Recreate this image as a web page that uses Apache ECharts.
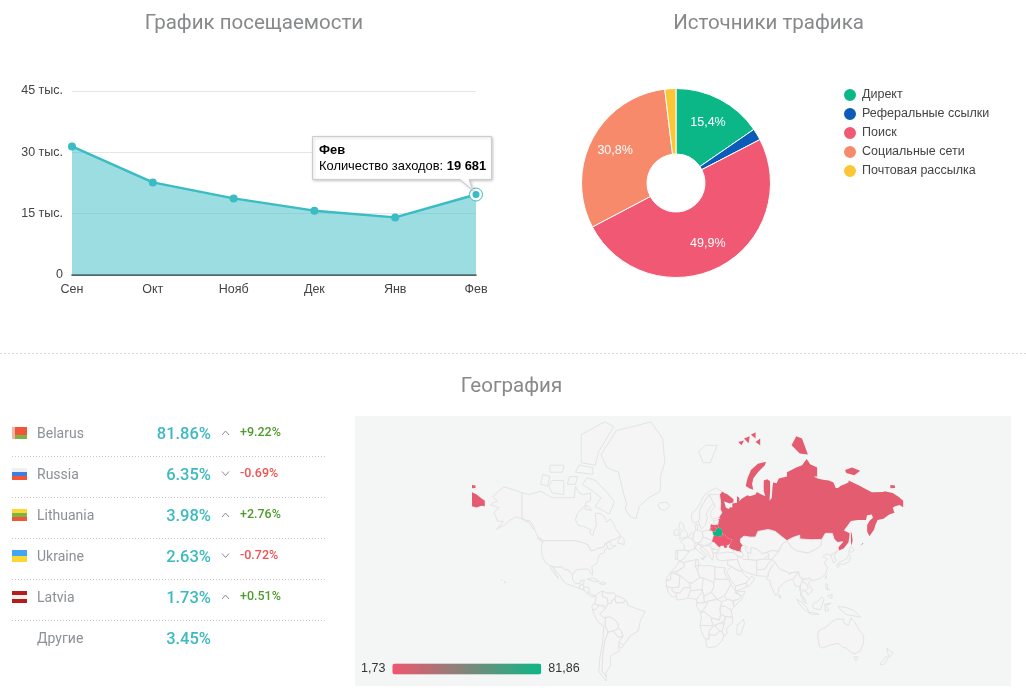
<!DOCTYPE html>
<html>
<head>
<meta charset="utf-8">
<script src="https://cdn.jsdelivr.net/npm/echarts@6/dist/echarts.min.js"></script>
<style>
  html, body { margin: 0; padding: 0; background: #fff; }
  #main { width: 1026px; height: 698px; }
</style>
</head>
<body>
<div id="main"></div>
<script>
// посещаемость
const months = ['Сен', 'Окт', 'Нояб', 'Дек', 'Янв', 'Фев']
const visits = [31450, 22650, 18730, 15730, 14090, 19681]
const visitTicks = [0, 15000, 30000, 45000]

// источники трафика
const sources = ['Директ', 'Реферальные ссылки', 'Поиск', 'Социальные сети', 'Почтовая рассылка']
const sourceShares = [15.4, 2.0, 49.9, 30.8, 1.9]
const sourceColors = ['#0cb787', '#0b5cb8', '#f15873', '#f88a6c', '#fdc634']

// география
const countries = ['Belarus', 'Russia', 'Lithuania', 'Ukraine', 'Latvia', 'Другие']
const countryShares = [81.86, 6.35, 3.98, 2.63, 1.73, 3.45]
const countryDeltas = [9.22, -0.69, 2.76, -0.72, 0.51, null]
const flagStripes = [
  ['#f2553a', '#f2553a', '#7cb342'],
  ['#f0f0f0', '#3f7fe0', '#f2553a'],
  ['#fdd835', '#7cb342', '#f2553a'],
  ['#42a5f5', '#fdd835'],
  ['#b71c1c', '#f4f0ea', '#b71c1c']
]

// контуры стран, lon lat (упрощённо)
const outlines = {
  Russia: ['28 60,30 60,28.5 60.7,31 62.5,29.5 64,30 66,29 69,31 70,33 69.5,36 69,41 67.5,41 66.5,38 66,33 66.7,34.5 64.5,37 64,38 64.7,40 64.6,40 66,44 66.3,44 68.5,46 68,46 66.8,48 67.7,53 68.8,55 68.5,60 69,61 69.8,65 69,68.5 68.5,67 70,67 73,70 73.3,72.5 72.8,72.5 70,72 67,74 68,74.5 71,75 72.5,78 72.3,80 73.5,87 74,87 75,95 76,100 76.5,104 77.7,107 76.7,113 76,113 74,110 74,113.5 73.5,118 73.2,123 73,127 72.5,129 71,131 71,133 71.5,140 72.5,140 73,150 71.5,153 71,160 69.7,170 69.8,171 70,178 69.5,180 69,183 68.3,187 67,187 64.7,184 65.5,180 65,178 64.5,179.5 62.5,175 61.8,170 60,165 59.5,163 57,162 55,158 51.5,156 54,156 57,158 59,161 60.5,160 61.8,156 61.5,155 59.5,148 59.5,142 59,136 54.5,141 53,140 48,136 44.5,132 43,131 45,135 48.3,130.5 48,127.5 50,126 53,120 53,117 49.7,108 49.5,98 50,98 52,92 50.8,87 49,83 51,77 54,71 55,62 54,60 51,55 51,50 51.5,47 50,47 48,49 46.3,47.5 45,47 43,48.5 41.8,44 42.5,40 43.5,37 45,38 47,40 49.5,36 50.3,34 52,31.5 52.5,31 55,28 56,27.5 57.5,28 59.5',
    '-184 69.7,-180 69,-176 67.8,-173 67,-173 65,-176 65.2,-180 64.6,-184 65',
    '-184 71.8,-181 71.7,-181 71,-184 70.9', '176 71.8,180 71.7,180 71,176 70.9',
    '51.5 71.5,55 70.8,58 70.5,57 72,58 73.5,62 75,68 76.5,69 77.2,62 76.8,56 75.5,53 73.5', '91 80,98 78.7,105 78.5,100 81,95 81.3',
    '137 75.5,143 76,150 75.3,145 74.3,138 74.8', '142 54.3,143 52,143.5 49,142.5 46,142 48,142 51', '20 55,22.5 55,22.5 54.3,19.8 54.4',
    '45 80.5,50 80.7,48 80', '50 81,55 81.3,54 80.3', '56 81.5,60 81.8,60 81', '60 80.5,64 81,64 80', '150 46,152 47.5,153 47.5', '146 44,148 45.5,148 45'],
  USA: ['-123 49,-95 49,-89 48,-84 46.5,-82 43,-79 43,-76 44.5,-71 45,-69 47.3,-67 45,-70 43.5,-70 41.7,-74 40.5,-76 37,-76 35,-81 31.5,-80 27,-80.5 25.2,-82.5 28,-84 30,-89 30,-94 29.5,-97.5 26,-99.5 27.5,-101.5 29.7,-104.5 29.5,-106.5 31.8,-111 31.3,-117 32.5,-120.5 34.5,-124 40,-124 46',
    '-141 69.6,-148 70.4,-156.5 71.3,-163 69.5,-166 68.3,-162 66.8,-165 66.5,-168 65.6,-161 64.5,-165 62.5,-162 59,-157 58.8,-163 55,-155 57.5,-152 59.2,-149 60,-146 60.8,-140 59.7,-135 58,-131 55,-130.5 56,-134 59,-137 59.3,-141 60.3',
    '-156 20.5,-155 19.3,-156 19.2', '-159 22,-158 21.5,-158.5 21.2'],
  Canada: ['-141 69.6,-141 60.3,-137 59.3,-134 59,-130.5 56,-130 54.5,-127 51,-123 49,-95 49,-89 48,-84 46.5,-82 43,-79 43,-76 44.5,-71 45,-69 47.3,-67 45,-66 43.5,-60 46,-64 46,-65 48.5,-70 47,-65 49,-60 50,-56 52,-60 55,-62 57.5,-65 60,-68 58.5,-70 61,-74 62.3,-78 62.3,-77 57,-79 54.5,-80 51.5,-82.5 53,-82 55,-88 56.5,-92.5 57,-95 59.5,-93.5 62,-90 64,-87 65,-86 66.5,-82 67,-82 69.5,-88 69,-92 69.5,-95 71.5,-96 68,-102 68,-108 68,-115 68,-125 70,-135 69',
    '-62 66,-66 62,-72 63.5,-78 65,-73 68,-80 70,-89 72,-85 73.7,-78 73,-70 70.5,-62 67', '-105 69,-115 69.5,-118 71.5,-115 73,-105 73', '-125 72,-119 71.5,-117 74,-123 74.5',
    '-90 77,-78 76.5,-75 79,-62 82.5,-70 83,-90 81.5', '-95 75,-80 74.5,-80 76,-92 76.5', '-117 75,-106 75,-105 76.5,-117 76.5', '-87 64,-81 63.5,-85 65.5',
    '-59 47.7,-53 46.7,-53 49.5,-56 51.5', '-128 50.5,-123.5 48.5,-125 50', '-102 72,-95 72,-93 74,-100 74'],
  Greenland: ['-73 78.5,-68 76,-58 75,-54 70,-51 66,-52 64,-48 61,-43 60,-40 65,-32 68,-22 70,-22 74,-18 77,-20 81,-30 83,-45 82.5,-60 82,-66 80.5'],
  Iceland: ['-24 65.5,-22 64,-18 63.5,-14 65,-16 66.5,-22 66.3'],
  Mexico: ['-117 32.5,-111 31.3,-106.5 31.8,-104.5 29.5,-101.5 29.7,-99.5 27.5,-97.5 26,-97.5 22,-95 18.7,-91 18.5,-90.5 21,-87 21.5,-88.5 18,-91 17,-92 14.7,-96 16,-102 18,-105.5 20.5,-109 26,-112.5 29.5,-114.5 31.5,-112 27,-109.7 23,-112 25,-115 29'],
  Guatemala: ['-92 14.7,-91 17,-88.5 18,-88 16,-87.5 13'],
  Nicaragua: ['-88 16,-83.3 15,-83.5 11,-85 10,-87.5 13'],
  Panama: ['-83.5 11,-80 9,-77.3 8.5,-78 7.5,-81 7.5,-85 10'],
  Cuba: ['-85 22,-80 23.2,-74.2 20.2,-77.5 19.9'],
  Hispaniola: ['-74.3 18.5,-71 19.9,-68.5 18.5,-71.5 17.8'],
  Colombia: ['-77.3 8.5,-75 11,-71.5 12.3,-72 8,-67.5 6,-67 1.5,-70 -4,-70 -1,-75 0,-79 1.5,-77.5 4'],
  Venezuela: ['-71.5 12.3,-68 10.5,-62 10.7,-60 8.5,-61 5,-64 4,-64 1.5,-67 1.5,-67.5 6,-72 8'],
  Guyana: ['-60 8.5,-52 5,-54 2.2,-60 2,-61 5'],
  Ecuador: ['-79 1.5,-75 0,-75.5 -1.5,-78.5 -4.5,-80.5 -3,-81 -1'],
  Peru: ['-80.5 -3,-78.5 -4.5,-75.5 -1.5,-75 0,-70 -1,-70 -4,-74 -7.5,-70.5 -11,-69 -12,-69.5 -17.5,-71 -18,-76 -14,-79 -8'],
  Bolivia: ['-69 -11,-65.5 -10,-60 -13.5,-58 -17,-58 -20,-62.5 -22,-67 -23,-69.5 -17.5'],
  Chile: ['-69.5 -17.5,-67 -23,-70 -31,-71.5 -40,-72 -50,-68.5 -52.5,-68.5 -55,-75 -50,-74 -42,-71.5 -30,-70.5 -18'],
  Argentina: ['-67 -23,-62.5 -22,-58 -27,-54 -26,-58 -33.5,-57 -37,-62 -39,-65 -41,-65 -47,-69 -51,-68.5 -52.5,-72 -50,-71.5 -40,-70 -31'],
  Paraguay: ['-62.5 -22,-58 -20,-55.5 -22,-54 -26,-58 -27'],
  Uruguay: ['-58 -33.5,-57.5 -30.5,-53.5 -33,-55 -35'],
  Brazil: ['-60 2,-54 2.2,-51 4,-50 0,-44 -2.5,-35 -5.5,-39 -13,-41 -22,-48 -26,-53.5 -33,-57.5 -30.5,-54 -26,-55.5 -22,-58 -20,-58 -17,-60 -13.5,-65.5 -10,-70.5 -11,-74 -7.5,-70 -4,-67 1.5,-64 1.5,-64 4,-61 5'],
  Norway: ['5 59,5 62,11 65,15 68.5,20 70,26 71,31 70,29 69,25 69,20 69,15 66,12 63.5,12 60,11 59,8 58'],
  Sweden: ['11 59,12 60,12 63.5,15 66,20 69,24 66,22 65.5,17.5 62,18.5 60,16.5 57,14 55.5,13 55.5'],
  Finland: ['24 66,20 69,25 69,29 69,30 66,29.5 64,31 62.5,28 60.5,23 60,21.5 61,21.5 63,25 65'],
  Svalbard: ['11 79,17 80,27 80,21 77,15 77'],
  Denmark: ['8 57,10.5 57.5,10 55,8.5 55'],
  UK: ['-5.5 50,1.5 51.2,1.5 53,-1.5 55,-2 57.5,-5 58.5,-6 56,-3 54,-5 53,-5 51.5'],
  Ireland: ['-10 52,-6 52,-6 55,-8.5 55,-10 54'],
  France: ['-4.5 48.5,2 51,6 49.5,8 49,7.5 44,3 43,-1.8 43.3,-1 46'],
  Spain: ['-9 43,-1.8 43.3,3 42.4,0 39.5,-2 37,-5.5 36,-7.4 37.2,-7 42'],
  Portugal: ['-9 42,-7 42,-7.4 37.2,-9 37'],
  Benelux: ['2 51,5 53.3,7 53.3,6 49.5'],
  Germany: ['7 53.5,9 54.8,14 54,15 51,12.5 48,8 47.6,6 49.5'],
  Poland: ['14 54,19 54.5,23 54,24 51.7,22.5 49,15 51'],
  Austria: ['12.5 48,15 51,22.5 49,22 47.7,16.5 46,10 47'],
  Italy: ['7.5 44,10 47,13.5 46,12.5 44,18 40,16 38,15.5 40,11 42.5,9 44.3', '12.5 38,15.5 38,15 36.7'],
  Balkans: ['13.5 46,16.5 46,21 46,22.5 44,23 41.3,24 40.5,23 36.5,20.5 39,19 42,15 44.5'],
  Romania: ['22 47.7,24.5 48,28 45.5,29.5 45,28.5 43.5,22.5 44,21 46'],
  Bulgaria: ['22.5 44,28.5 43.5,27.5 42,23 41.3'],
  Turkey: ['26 41.5,29 41.2,35 42,42 41.5,44.5 39.5,44.5 37,36 36.5,30 36.2,27 37'],
  Lithuania: ['21 56,25 56.3,26.5 55.5,25.5 54,23 54,21 55.3'],
  Latvia: ['21 56,21.5 57.5,24.3 57.2,27.5 57.5,28 56,26.5 55.5,25 56.3'],
  Estonia: ['23.5 59.2,28 59.5,27.5 57.5,24.3 57.8,24 58.5'],
  Belarus: ['23 54,25.5 54,26.5 55.5,28 56,31 55,31.5 52.5,30.5 51.4,24 51.7'],
  Ukraine: ['24 51.7,30.5 51.4,31.5 52.5,34 52,36 50.3,40 49.5,38 47,35 46,36 45.2,33.5 44.5,32.5 46,30 46,29.5 45,28 45.5,24.5 48,22.5 48.5'],
  Morocco: ['-6 35.8,-2 35,-1 32,-8.7 28,-8.7 27.5,-13 27.5,-13 21.5,-17 21,-16 24,-13 27.5,-9.5 31,-7 33.5'],
  Algeria: ['-2 35,9 37,8 32,10 29,12 23.5,5.7 19,3 19,-5 25,-8.7 27.5,-8.7 28,-1 32'],
  Tunisia: ['9 37,11 37,11 33,8 32'],
  Libya: ['11 33,15 32.3,20 32.8,25 31.7,25 20,24 19.5,15 23,12 23.5,10 29'],
  Egypt: ['25 31.7,34 31,33 28,35 24,37 22,25 22'],
  Mauritania: ['-17 21,-13 21.5,-13 27.5,-5 25,-6 15.5,-12 15,-16.5 16'],
  Mali: ['-12 15,-6 15.5,-5 25,3 19,4 15,-2 15,-5 10.5,-8.5 10.5,-12 12.5'],
  Niger: ['4 15,3 19,5.7 19,12 23.5,15 23,15.5 16,13.5 13.5,4 12.5'],
  Chad: ['15 23,24 19.5,24 15.5,22 11,15.5 8,14 13'],
  Sudan: ['24 19.5,25 22,37 22,38.5 18,36 12.5,33 8,27 5,24 9,22 11,24 15.5'],
  Ethiopia: ['36 12.5,38.5 18,43 12,42 11,48 8,45 5,40 4,36 5,33 8'],
  Somalia: ['43 11.5,51 12,48 5,41.5 -1.5,41 3.5,45 5,48 8'],
  Senegal: ['-16.5 16,-12 15,-12 12.5,-8.5 10.5,-8 7.5,-11.5 7,-15 11'],
  Ghana: ['-8 7.5,-8.5 10.5,-5 10.5,-2 15,4 15,4 12.5,1.5 6,-3 5,-7.5 4.5'],
  Nigeria: ['4 12.5,13.5 13.5,14 11,9 5,4 6,1.5 6'],
  Cameroon: ['14 13,15.5 8,16 2,9.5 2,9 5,14 11'],
  CAR: ['15.5 8,22 11,27 5,19 3.5,16 2'],
  DRC: ['19 3.5,27 5,31 3,29 -4,30 -8,29 -13,22 -11,16 -6,12.5 -6,16 -3'],
  Gabon: ['16 2,19 3.5,16 -3,12.5 -6,9 -1,9.5 2'],
  Kenya: ['31 3,36 5,40 4,41.5 -1.5,39 -4.5,34 -1,30 -1'],
  Tanzania: ['30 -1,34 -1,39 -4.5,40 -10.5,34.5 -10,30 -8'],
  Angola: ['12.5 -6,16 -6,22 -11,22 -13,24 -17.5,12 -17.5,13.5 -11'],
  Zambia: ['22 -11,29 -13,30 -8,34 -10,33 -14,28 -16,24 -17.5,22 -13'],
  Mozambique: ['34.5 -10,40 -10.5,40.5 -15,35 -20,35.5 -24,32.8 -26,31 -22.5,33 -16,33 -14'],
  Zimbabwe: ['25.3 -18,28 -16,33 -16,31 -22.5,29 -22'],
  Namibia: ['12 -17.5,24 -17.5,20 -22,20 -28.5,17 -28.5,15 -26'],
  Botswana: ['20 -22,24 -17.5,25.3 -18,29 -22,25.5 -25.5,20 -25'],
  SouthAfrica: ['17 -28.5,20 -28.5,20 -25,25.5 -25.5,29 -22,31 -22.5,32.8 -26,31 -30,26 -34,20 -34.8,18 -34'],
  Madagascar: ['49.5 -12,50.5 -16,47 -25,44 -25,44 -17,47 -15'],
  Saudi: ['36 29,39 32,44 29.5,48 28.5,51 25,55 22.5,52 19,45 17,42.5 16.5,39 21,35 28'],
  Yemen: ['42.5 16.5,45 17,52 19,53 16,45 12.7,43 12.7'],
  Oman: ['52 19,55 22.5,56.5 24.5,59.5 22.5,55 17,53 16'],
  Iraq: ['36 36.5,44.5 37,46 33,48 30,48 28.5,44 29.5,39 32,36 33'],
  Iran: ['44.5 39.5,48 38.5,50 37,54 37,61 36.5,61 31,63 27,61 25,57 26,51 28,48 30,46 33,44.5 37'],
  Caucasus: ['40 43.5,44 42.5,48.5 41.8,49.5 40,48 38.5,44.5 39.5,42 41.5'],
  Kazakhstan: ['47 50,47 48,49 46.3,53 45,51 44,53 42,56 41,56 45,61 44,66 41,70 42,74 43,80 42.5,83 47,87 49,83 51,77 54,71 55,62 54,60 51,55 51,50 51.5'],
  Uzbekistan: ['53 42,56 41,56 45,61 44,66 41,70 42,71.5 40,67 37.3,61 36.5,54 37,53.5 40'],
  Kyrgyzstan: ['70 42,74 43,80 42.5,74 37,71 37,71.5 40'],
  Afghanistan: ['61 36.5,67 37.3,71 37,74.5 37,71 34,69 31,66 29.5,61 29.5,61 31'],
  Pakistan: ['61 29.5,66 29.5,69 31,71 34,74.5 37,77 35,74 32,71 27.5,71 24.5,67 24.5,61 25'],
  India: ['74 32,77 35,79 32,81 30,88 27.5,89 26,92 27.5,97 28,94 24,92 22,89 21.5,85 19.5,80 15,80 12,77.5 8,73 17,72.5 21,69 22.5,71 24.5,71 27.5'],
  China: ['74 37,80 42.5,83 47,87 49,91 45,96 42.7,105 41.5,111 43.5,116 46,117 49.7,120 53,126 53,127.5 50,130.5 48,135 48.3,131 45,131 43,128 41.5,124.5 40,121 41,118 39,122 37,119 35,122 31,120 26,116 23,110 21,108 21.7,106 23,102 22,98 24,97 28,92 27.5,89 27,88 27.5,81 30,79 32,77 35'],
  Mongolia: ['87 49,92 50.8,98 52,98 50,108 49.5,117 49.7,116 46,111 43.5,105 41.5,96 42.7,91 45'],
  Korea: ['124.5 40,128 41.5,130.5 42.5,127.5 39.5,129.5 36,127 34.5,126 37'],
  Japan: ['131 34,136 33.5,141 35.5,141.5 40,140 41,139 38,136 36.5,132 35.3', '140 42,142 45.5,145 43.5,143 42', '130 33.5,132 33,131 31,130 32'],
  Taiwan: ['121 25,120.5 22.5,120 24'],
  Myanmar: ['92 22,94 24,97 28,98 24,101 21,98.5 17,99 10,97.5 16.5,94.5 16,93 19.5'],
  Thailand: ['100 20.5,104 18,105.5 15,102.5 12,100.5 13.5,99.5 9.5,101.5 6,99 7.5,98.5 11,98.5 17'],
  Vietnam: ['102 22,106 23,108 21.7,105.5 19,109 13,107 10.5,105 8.7,104.8 10.5,102.5 12,105.5 15,104 18,100 20.5'],
  Malaysia: ['100.3 6.5,102 6,104 1.5,101 3'],
  Indonesia: ['95.5 5.5,99 3,104 -2,106 -6,102 -4,97 2', '105.5 -6.5,110 -6.5,114.5 -8,108 -8', '109 1,113 3,117 7,119 5,117.5 1,116 -4,110 -3', '119.5 1,125 1.5,121 0,123 -4.5,120 -5.5'],
  Papua: ['131 -1,138 -2,145 -5,150.5 -10.5,143 -9,138 -8,133 -4'],
  Philippines: ['120.5 18.5,122 18,122 14,124 13,120.5 14', '122 8,126 9.5,125.5 6,123 7'],
  SriLanka: ['80 9.5,82 7,80.5 6'],
  Australia: ['114 -22,122 -18,126 -14,130 -12,136 -12,135.5 -15,140 -17.5,142 -11,145.5 -15,149 -21,153 -26,153 -31,150 -37,146 -39,143 -38.5,138 -35,135 -34.5,131 -31.5,124 -33,118 -35,115 -34,113.5 -26', '144.7 -41,148 -41,147 -43.5,146 -43.5'],
  NewZealand: ['173 -35,176 -37.5,178.5 -38,175 -41.5,174 -39', '172.5 -40.7,174 -42,170.5 -46,167 -46,169 -44']
}

const parseRing = s => {
  const ring = s.split(',').map(p => p.split(' ').map(Number))
  ring.push(ring[0])
  return ring
}
const worldJson = {
  type: 'FeatureCollection',
  features: Object.keys(outlines).map(name => ({
    type: 'Feature',
    properties: { name },
    geometry: { type: 'MultiPolygon', coordinates: outlines[name].map(s => [parseRing(s)]) }
  }))
}
echarts.registerMap('world', worldJson)

// как у гугла, обычный меркатор
const mercator = {
  project: p => [p[0] * Math.PI / 180, -Math.log(Math.tan(Math.PI / 4 + p[1] * Math.PI / 360))],
  unproject: p => [p[0] * 180 / Math.PI, (2 * Math.atan(Math.exp(-p[1])) - Math.PI / 2) * 180 / Math.PI]
}

const ruNum = v => String(v).replace(/\B(?=(\d{3})+$)/g, ' ')
const pieCenter = [676, 183]
const baseFont = 'Liberation Sans'

const chart = echarts.init(document.getElementById('main'))
const titleBase = { top: 8, textAlign: 'center', textStyle: { fontFamily: 'Roboto', fontSize: 20.5, fontWeight: 'normal', color: '#87898b' } }

chart.setOption({
  animation: false,
  textStyle: { fontFamily: baseFont },
  title: [
    { ...titleBase, text: 'График посещаемости', left: 249 },
    { ...titleBase, text: 'Источники трафика', left: 763.5 },
    { ...titleBase, text: 'География', left: 506.5, top: 371 }
  ],
  grid: { left: 72, width: 404, top: 91, height: 184, containLabel: false },
  xAxis: {
    type: 'category', data: months, boundaryGap: false,
    axisTick: { show: false },
    axisLine: { lineStyle: { color: '#333', width: 1.5 } },
    axisLabel: { color: '#444', fontSize: 12.5, margin: 8, interval: 0 }
  },
  yAxis: {
    type: 'value', min: visitTicks[0], max: visitTicks[3], interval: visitTicks[1],
    axisLine: { show: false }, axisTick: { show: false },
    splitLine: { lineStyle: { color: '#e6e6e6' } },
    axisLabel: { color: '#444', fontSize: 12.5, margin: 9, padding: [4, 0, 0, 0], formatter: v => v ? v / 1000 + ' тыс.' : '0' }
  },
  legend: {
    data: sources, orient: 'vertical', left: 837, top: 82, icon: 'circle',
    itemWidth: 14, itemHeight: 14, itemGap: 3,
    textStyle: { color: '#444', fontSize: 12.5 }
  },
  visualMap: {
    type: 'continuous', seriesIndex: 2, min: countryShares[4], max: countryShares[0],
    orient: 'horizontal', left: 346, top: 647.5, itemWidth: 11, itemHeight: 149, textGap: 7,
    calculable: false, realtime: false, hoverLink: false,
    text: ['81,86', '1,73'], textStyle: { color: '#333', fontSize: 12.5 },
    inRange: { color: ['#f0566f', '#0cb785'] }
  },
  series: [
    {
      type: 'line', data: visits, symbol: 'circle', symbolSize: 8, showAllSymbol: true,
      lineStyle: { color: '#39bcc3', width: 2.4 }, itemStyle: { color: '#39bcc3' },
      areaStyle: { color: '#39bcc3', opacity: 0.5 },
      markPoint: {
        silent: true, animation: false, label: { show: false },
        data: [
          { coord: [months[5], visits[5]], symbol: 'circle', symbolSize: 13, itemStyle: { color: '#fff', borderColor: '#39bcc3', borderWidth: 1 } },
          { coord: [months[5], visits[5]], symbol: 'circle', symbolSize: 7, itemStyle: { color: '#39bcc3' } }
        ]
      }
    },
    {
      type: 'pie', center: pieCenter, radius: [29, 94.5], startAngle: 90, clockwise: true, silent: true,
      data: sources.map((name, i) => ({ name, value: sourceShares[i], itemStyle: { color: sourceColors[i] } })),
      itemStyle: { borderColor: '#fff', borderWidth: 1 },
      label: {
        position: 'inside', color: '#fff', fontSize: 12.5,
        formatter: p => p.value >= 5 ? String(p.value).replace('.', ',') + '%' : ''
      },
      // подпись чуть дальше от центра, как в оригинале
      labelLayout: p => {
        const dx = p.labelRect.x + p.labelRect.width / 2 - pieCenter[0]
        const dy = p.labelRect.y + p.labelRect.height / 2 - pieCenter[1]
        const k = 2 / (Math.hypot(dx, dy) || 1)
        return { dx: dx * k, dy: dy * k }
      }
    },
    {
      type: 'map', map: 'world', projection: mercator, silent: true, aspectScale: 1, showLegendSymbol: false,
      boundingCoords: [[-184, 83.5], [186, -57]],
      left: 472, top: 417, width: 430, height: 268,
      itemStyle: { areaColor: '#f5f5f5', borderColor: '#e3e3e3', borderWidth: 1 },
      emphasis: { disabled: true }, select: { disabled: true },
      label: { show: false },
      data: countries.slice(0, 5).map((name, i) => ({ name, value: countryShares[i], itemStyle: { borderWidth: 0 } }))
    }
  ]
})

// подсказка над последней точкой, с хвостиком
const tip = chart.convertToPixel({ seriesIndex: 0 }, [months.length - 1, visits[visits.length - 1]])
const richFont = { fontFamily: baseFont, fontSize: 12.9, lineHeight: 16 }
const callout = [
  {
    type: 'polygon', z: 50,
    shape: { points: [[312.5, 136.5], [491.5, 136.5], [491.5, 179.5], [469, 179.5], [tip[0] - 3, tip[1] - 4], [460, 179.5], [312.5, 179.5]] },
    style: { fill: '#fff', stroke: '#ccc', lineWidth: 1, shadowBlur: 3, shadowColor: 'rgba(0,0,0,0.2)', shadowOffsetX: 1, shadowOffsetY: 1 }
  },
  {
    type: 'text', z: 51, x: 319, y: 142,
    style: {
      text: '{t|' + months[5] + '}\n{n|Количество заходов: }{v|' + ruNum(visits[5]) + '}',
      rich: {
        t: { ...richFont, fontWeight: 'bold', color: '#000' },
        n: { ...richFont, color: '#222' },
        v: { ...richFont, fontWeight: 'bold', color: '#111' }
      }
    }
  }
]

// таблица по странам
const rowTop = 432, rowStep = 41
const table = []
countries.forEach((name, i) => {
  const y = rowTop + i * rowStep
  table.push({ type: 'text', x: 37, y: y + 2, style: { text: name, font: '14px Roboto', fill: '#8b9196', verticalAlign: 'middle' } })
  table.push({ type: 'text', x: 211, y: y + 2.5, style: { text: countryShares[i].toFixed(2) + '%', font: '500 16.5px Roboto', fill: '#3cb9c2', align: 'right', verticalAlign: 'middle' } })
  if (i < flagStripes.length) {
    const stripes = flagStripes[i]
    const stripeH = 12 / stripes.length
    stripes.forEach((color, s) => {
      table.push({ type: 'rect', shape: { x: 12, y: y - 5 + s * stripeH, width: 15, height: stripeH }, style: { fill: color } })
    })
    if (i === 0) table.push({ type: 'rect', shape: { x: 12, y: y - 5, width: 3, height: 12 }, style: { fill: '#f5b5a5' } })
    const up = countryDeltas[i] > 0
    const cy = y + (up ? 1 : 0.5)
    table.push({
      type: 'polyline',
      shape: { points: up ? [[222, cy + 2], [225.5, cy - 2], [229, cy + 2]] : [[222, cy - 2], [225.5, cy + 2], [229, cy - 2]] },
      style: { stroke: '#8a8a8a', lineWidth: 1, fill: null }
    })
    table.push({
      type: 'text', x: 240, y: y + 1,
      style: { text: (up ? '+' : '') + countryDeltas[i].toFixed(2) + '%', font: '500 12.5px Roboto', fill: up ? '#4f9a2c' : '#ef5350', verticalAlign: 'middle' }
    })
    table.push({
      type: 'line', shape: { x1: 12, y1: y + 24.5, x2: 325, y2: y + 24.5 },
      style: { stroke: '#c8c8c8', lineWidth: 1, lineDash: [1, 2] }
    })
  }
})

chart.setOption({
  graphic: [
    { type: 'rect', z: -1, shape: { x: 355, y: 416, width: 656, height: 270 }, style: { fill: '#f4f6f6' } },
    { type: 'line', shape: { x1: 0, y1: 353.5, x2: 1026, y2: 353.5 }, style: { stroke: '#d8d8d8', lineWidth: 1, lineDash: [2, 2] } },
    ...table,
    ...callout
  ]
})
</script>
</body>
</html>
